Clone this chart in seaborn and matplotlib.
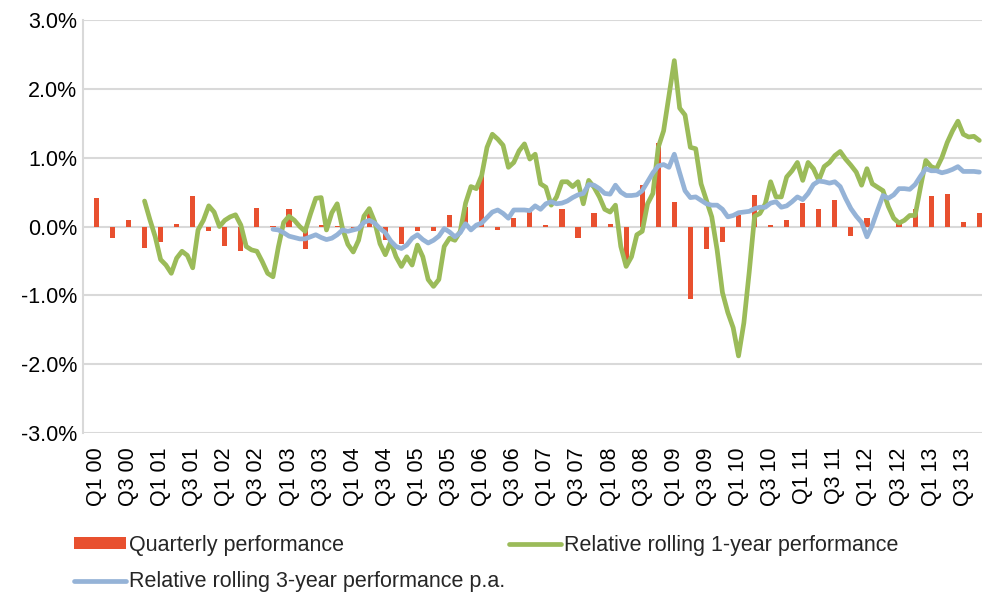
import numpy as np
import pandas as pd
import matplotlib
matplotlib.use("Agg")
import matplotlib.pyplot as plt
import seaborn as sns
from matplotlib.patches import Patch
from matplotlib.lines import Line2D

# data (in %), Jan 2000 - Dec 2013, monthly axis
years = list(range(2000, 2014))

# quarterly relative performance, Q1 00 .. Q4 13
quarter_perf = [0.41, -0.16, 0.09, -0.31,
                -0.22, 0.04, 0.44, -0.07,
                -0.28, -0.35, 0.27, 0.01,
                0.25, -0.32, 0.02, 0.01,
                -0.04, 0.19, -0.19, -0.25,
                -0.06, -0.06, 0.17, 0.29,
                0.73, -0.05, 0.12, 0.21,
                0.02, 0.26, -0.17, 0.19,
                0.04, -0.58, 0.60, 1.22,
                0.36, -1.05, -0.33, -0.22,
                0.17, 0.46, 0.02, 0.10,
                0.34, 0.25, 0.39, -0.14,
                0.12, -0.01, 0.07, 0.25,
                0.45, 0.47, 0.06, 0.20]

# relative rolling 1-year performance, monthly from Dec 2000
start_1y = 11
rolling_1y = [0.37, 0.10, -0.15, -0.48, -0.56, -0.68, -0.46, -0.36, -0.42, -0.60,
              -0.05, 0.09, 0.30, 0.21, 0.00, 0.09, 0.14, 0.17, 0.02, -0.29,
              -0.34, -0.36, -0.51, -0.68, -0.73, -0.30, 0.06, 0.15, 0.09, 0.00,
              -0.07, 0.18, 0.41, 0.42, -0.05, 0.20, 0.33, -0.03, -0.26, -0.37,
              -0.20, 0.15, 0.26, 0.07, -0.25, -0.41, -0.22, -0.44, -0.58, -0.44,
              -0.56, -0.27, -0.44, -0.77, -0.87, -0.77, -0.29, -0.17, -0.20, -0.07,
              0.34, 0.58, 0.55, 0.74, 1.15, 1.34, 1.27, 1.18, 0.86, 0.93,
              1.10, 1.20, 0.98, 1.05, 0.62, 0.57, 0.31, 0.43, 0.65, 0.65,
              0.58, 0.65, 0.33, 0.67, 0.57, 0.43, 0.25, 0.21, 0.31, -0.29,
              -0.58, -0.44, -0.12, -0.07, 0.33, 0.48, 1.15, 1.39, 1.90, 2.41,
              1.72, 1.62, 1.15, 1.13, 0.62, 0.38, 0.14, -0.34, -0.96, -1.25,
              -1.47, -1.88, -1.40, -0.66, 0.15, 0.19, 0.33, 0.65, 0.43, 0.43,
              0.72, 0.81, 0.93, 0.67, 0.93, 0.84, 0.67, 0.87, 0.93, 1.03,
              1.09, 0.98, 0.89, 0.79, 0.60, 0.84, 0.62, 0.57, 0.52, 0.29,
              0.12, 0.05, 0.09, 0.16, 0.16, 0.57, 0.96, 0.87, 0.84, 1.00,
              1.22, 1.39, 1.53, 1.34, 1.30, 1.31, 1.25]

# relative rolling 3-year performance p.a., monthly from Dec 2002
start_3y = 35
rolling_3y = [-0.04, -0.05, -0.09, -0.14, -0.16, -0.18, -0.18, -0.15, -0.12, -0.16,
              -0.19, -0.17, -0.12, -0.05, -0.07, -0.05, -0.03, 0.06, 0.09, 0.05,
              -0.03, -0.09, -0.21, -0.29, -0.32, -0.27, -0.17, -0.12, -0.19, -0.24,
              -0.20, -0.14, -0.03, -0.08, -0.15, -0.09, 0.04, -0.05, 0.02, 0.05,
              0.13, 0.21, 0.24, 0.19, 0.12, 0.24, 0.24, 0.24, 0.23, 0.30,
              0.25, 0.33, 0.36, 0.33, 0.34, 0.37, 0.42, 0.46, 0.48, 0.61,
              0.60, 0.55, 0.48, 0.47, 0.60, 0.50, 0.45, 0.45, 0.46, 0.52,
              0.65, 0.78, 0.88, 0.90, 0.86, 1.05, 0.78, 0.52, 0.42, 0.43,
              0.38, 0.33, 0.31, 0.31, 0.25, 0.14, 0.16, 0.20, 0.21, 0.22,
              0.26, 0.28, 0.28, 0.34, 0.36, 0.28, 0.30, 0.36, 0.43, 0.39,
              0.48, 0.61, 0.66, 0.65, 0.63, 0.65, 0.58, 0.41, 0.26, 0.15,
              0.06, -0.15, 0.02, 0.24, 0.45, 0.41, 0.46, 0.55, 0.55, 0.54,
              0.61, 0.73, 0.84, 0.81, 0.81, 0.78, 0.80, 0.83, 0.87, 0.80,
              0.80, 0.80, 0.79]

RED = "#E8502F"
GREEN = "#9BBB59"
BLUE = "#95B3D7"
GRID = "#D9D9D9"
FS = 15.5

n_months = len(years) * 12
quarter_month = [q * 3 + 2 for q in range(len(quarter_perf))]
tick_labels = [f"Q{q} {y % 100:02d}" for y in years for q in (1, 3)]
tick_pos = [6 * k + 2 for k in range(len(tick_labels))]

bars_df = pd.DataFrame({"month": quarter_month, "perf": quarter_perf})
r1_df = pd.DataFrame({"month": np.arange(start_1y, start_1y + len(rolling_1y)), "val": rolling_1y})
r3_df = pd.DataFrame({"month": np.arange(start_3y, start_3y + len(rolling_3y)), "val": rolling_3y})

sns.set_theme(style="white")
plt.rcParams["font.family"] = ["Liberation Sans", "DejaVu Sans"]

fig = plt.figure(figsize=(9.82, 5.92), dpi=100)
ax = fig.add_axes([83 / 982, 1 - 433 / 592, (982 - 83) / 982, (433 - 20) / 592])

sns.barplot(data=bars_df, x="month", y="perf", native_scale=True, width=0.32,
            color=RED, saturation=1, errorbar=None, linewidth=0, ax=ax, zorder=2)
sns.lineplot(data=r1_df, x="month", y="val", color=GREEN, linewidth=3.4, ax=ax, zorder=3)
sns.lineplot(data=r3_df, x="month", y="val", color=BLUE, linewidth=3.4, ax=ax, zorder=4)

ax.set_xlim(-0.5, n_months - 0.5)
ax.set_ylim(-3, 3)
ax.set_yticks(np.arange(-3, 3.01, 1))
ax.set_yticklabels([f"{v:.1f}%" for v in np.arange(-3, 3.01, 1)], fontsize=FS)
ax.set_xticks(tick_pos)
ax.set_xticklabels(tick_labels, rotation=90, fontsize=FS)
ax.tick_params(axis="x", length=0, pad=10.5, colors="black")
ax.tick_params(axis="y", length=0, pad=4, colors="black")
ax.set_xlabel("")
ax.set_ylabel("")

ax.yaxis.grid(True, color=GRID, linewidth=1.5, zorder=0)
ax.xaxis.grid(False)
ax.set_axisbelow(True)
for side in ["top", "right", "bottom"]:
    ax.spines[side].set_visible(False)
ax.spines["left"].set_color(GRID)
ax.spines["left"].set_linewidth(1.5)

handles = [Patch(facecolor=RED, edgecolor="none"),
           Line2D([0], [0], color=BLUE, linewidth=3.4, solid_capstyle="round"),
           Line2D([0], [0], color=GREEN, linewidth=3.4, solid_capstyle="round")]
labels = ["Quarterly performance",
          "Relative rolling 3-year performance p.a.",
          "Relative rolling 1-year performance"]
fig.legend(handles, labels, loc="upper left", bbox_to_anchor=(74 / 982, 1 - 535 / 592),
           ncol=2, frameon=False, fontsize=FS, borderpad=0, borderaxespad=0,
           handlelength=2.4, handleheight=0.5, handletextpad=0.15,
           columnspacing=0.2, labelspacing=0.72)

fig.savefig("out.png", dpi=100)
